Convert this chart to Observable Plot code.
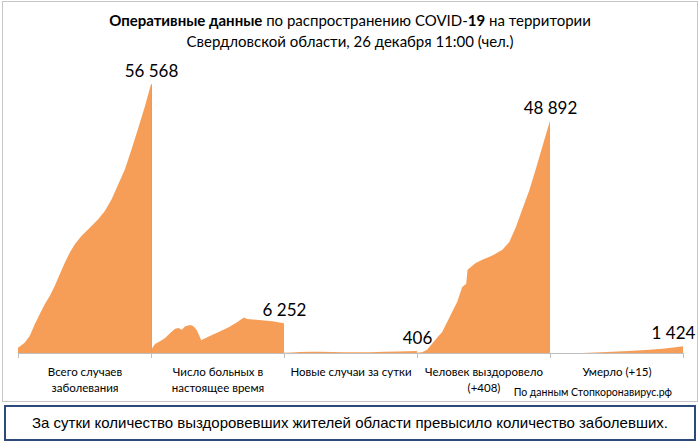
<!DOCTYPE html>
<html>
<head>
<meta charset="utf-8">
<script src="https://cdn.jsdelivr.net/npm/d3@7"></script>
<script src="https://cdn.jsdelivr.net/npm/@observablehq/plot@0.6"></script>
<style>
  html, body { margin: 0; padding: 0; background: #fff; }
  #page { position: relative; width: 700px; height: 444px; font-family: Lato, "Open Sans", sans-serif; color: #000; }
  #frame { position: absolute; left: 2px; top: 1px; width: 694px; height: 399px; border: 1px solid #c6c6c6; }
  #title { position: absolute; left: 0; top: 10px; width: 700px; text-align: center; font-size: 15px; line-height: 21px; }
  #chart { position: absolute; left: 0; top: 50px; }
  #source { position: absolute; right: 28px; top: 386px; font-size: 10.5px; }
  #caption { position: absolute; left: 4px; top: 405px; width: 688px; height: 32px; border: 2px solid #2b4a7a;
             font-family: "Liberation Sans", Arial, sans-serif; font-size: 15px; line-height: 32px; text-align: center; }
</style>
</head>
<body>
<div id="page">
  <div id="frame"></div>
  <div id="title"><b>Оперативные данные</b> по распространению COVID-<b>19</b> на территории<br>Свердловской области, 26 декабря 11:00 (чел.)</div>
  <div id="chart"></div>
  <div id="source">По данным Стопкоронавирус.рф</div>
  <div id="caption">За сутки количество выздоровевших жителей области превысило количество заболевших.</div>
</div>
<script>
// Category names and axis labels
const panelNames = ["Всего случаев заболевания", "Число больных в настоящее время", "Новые случаи за сутки", "Человек выздоровело (+408)", "Умерло (+15)"];
const panelLabels = ["Всего случаев\nзаболевания", "Число больных в\nнастоящее время", "Новые случаи за сутки", "Человек выздоровело\n(+408)", "Умерло (+15)"];

// Series: [position within period (0–100), value]
const totalCases = [[0,1120],[5,2180],[8.8,3580],[12.6,6030],[16.3,8140],[20.1,10250],[23.9,12000],[27.6,14110],[31.4,16560],[35.2,19020],[38.9,21120],[42.7,22880],[47.7,24630],[54,26390],[60.3,28140],[65.3,29900],[70.4,32350],[75.4,35510],[80.4,38670],[85.4,42880],[90.5,47440],[95.5,52000],[100,56568]];
const activeCases = [[0,700],[0.5,840],[3,1900],[6.8,2460],[10.6,3160],[14.4,4210],[18.1,5120],[20.7,5260],[23.2,4910],[25.7,5610],[29.5,5900],[32,5610],[34.5,4770],[36.3,3650],[37.8,2670],[39.5,2950],[44.6,3650],[50.9,4420],[58.4,5400],[64.7,6460],[69.8,7500],[72.3,7160],[81.1,6950],[91.2,6670],[100,6252]];
const newCases = [[0,30],[6,120],[12,200],[20,260],[28,280],[36,220],[45,180],[55,150],[65,170],[75,250],[85,330],[93,380],[100,406]];
const recovered = [[0,70],[3.8,140],[7.6,700],[11.3,1960],[15.1,3230],[18.9,4420],[22.7,6520],[26.4,8620],[30.2,10730],[34,13880],[37,14580],[38,17530],[44.1,18930],[49.1,19630],[56.7,20540],[64.2,21730],[69.3,23340],[74.3,26500],[79.3,30350],[84.4,34210],[89.4,38770],[94.5,43670],[100,48892]];
const deaths = [[0,0],[24,20],[34,100],[46.6,250],[59,420],[71.8,630],[84.4,910],[94.5,1190],[100,1424]];

const seriesList = [totalCases, activeCases, newCases, recovered, deaths];

const data = seriesList.flatMap((s, i) => s.map(([t, v]) => ({panel: panelNames[i], t, v})));
const lastPoints = seriesList.map((s, i) => ({panel: panelNames[i], t: s[s.length - 1][0], v: s[s.length - 1][1], idx: i}));
const labelRows = panelNames.map((n, i) => ({panel: n, label: panelLabels[i]}));

const fmt = v => d3.format(",")(v).replace(/,/g, " ");

const chart = Plot.plot({
  width: 700,
  height: 350,
  marginLeft: 17,
  marginRight: 17,
  marginTop: 18,
  marginBottom: 47,
  style: {fontFamily: "Lato, 'Open Sans', sans-serif", background: "transparent"},
  fx: {domain: panelNames, padding: 0, axis: null},
  x: {domain: [0, 100], axis: null},
  y: {domain: [0, 60000], axis: null},
  marks: [
    Plot.areaY(data, {fx: "panel", x: "t", y: "v", fill: "#f69e57", curve: "linear"}),
    Plot.ruleX(lastPoints.filter(d => d.idx === 0), {fx: "panel", x: "t", y1: 0, y2: "v", stroke: "#ef8f86", strokeWidth: 1}),
    Plot.ruleY([0], {stroke: "#bfbfbf"}),
    Plot.axisX([0, 100], {tickSize: 5, tickFormat: () => "", label: null, stroke: "#bfbfbf"}),
    Plot.text(lastPoints.filter(d => d.idx < 4), {fx: "panel", x: "t", y: "v", text: d => fmt(d.v), dy: -13, fontSize: 17, fill: "#000"}),
    Plot.text(lastPoints.filter(d => d.idx === 4), {fx: "panel", x: "t", y: "v", text: d => fmt(d.v), dy: -13, dx: -10, fontSize: 17, fill: "#000"}),
    Plot.text(labelRows, {fx: "panel", text: "label", frameAnchor: "bottom", lineAnchor: "top", dy: 11, fontSize: 11.5, lineHeight: 1.4, fill: "#000"})
  ]
});
document.getElementById("chart").appendChild(chart);
</script>
</body>
</html>
